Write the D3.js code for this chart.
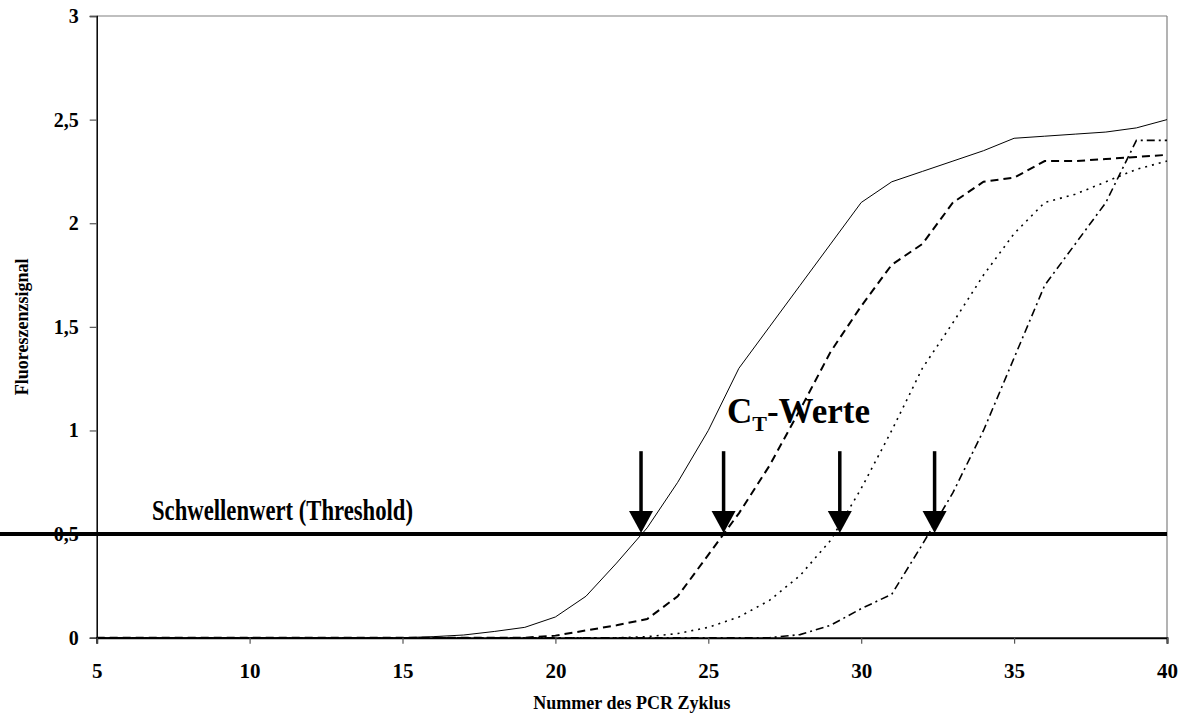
<!DOCTYPE html>
<html>
<head>
<meta charset="utf-8">
<script src="https://cdn.jsdelivr.net/npm/d3@7"></script>
<style>
    body{margin:0;background:#fff;}
    svg text{font-family:"Liberation Serif","Times New Roman",serif;font-weight:bold;fill:#000;}
</style>
</head>
<body>
<svg id="chart" width="1182" height="716"></svg>
<script>
var cycles=d3.range(5,41);

// signal per cycle 5..40, four samples
var sampleA=[0,0,0,0,0,0,0,0,0,0,0,0.005,0.013,0.03,0.05,0.10,0.20,0.36,0.53,0.75,1.0,1.3,1.5,1.7,1.9,2.1,2.2,2.25,2.3,2.35,2.41,2.42,2.43,2.44,2.46,2.5];
var sampleB=[0,0,0,0,0,0,0,0,0,0,0,0,0,0,0,0.01,0.035,0.06,0.09,0.2,0.4,0.6,0.83,1.1,1.38,1.6,1.8,1.9,2.1,2.2,2.22,2.3,2.3,2.31,2.32,2.33];
var sampleC=[0,0,0,0,0,0,0,0,0,0,0,0,0,0,0,0,0,0,0.005,0.02,0.05,0.1,0.18,0.3,0.47,0.72,1.0,1.3,1.52,1.75,1.95,2.1,2.14,2.2,2.26,2.3];
var sampleD=[0,0,0,0,0,0,0,0,0,0,0,0,0,0,0,0,0,0,0,0,0,0,0,0.015,0.06,0.14,0.21,0.45,0.7,1.0,1.35,1.7,1.9,2.1,2.4,2.4];

var xTicks=[5,10,15,20,25,30,35,40];
var yTicks=[0,0.5,1,1.5,2,2.5,3];
var thresholdValue=0.5;
var ctValues=[22.8,25.5,29.3,32.4];
var arrowTopValue=0.9;

var seriesList=[
    {name:"A",values:sampleA,width:1,dash:null},
    {name:"B",values:sampleB,width:2,dash:"8,5"},
    {name:"C",values:sampleC,width:1.6,dash:"2,5"},
    {name:"D",values:sampleD,width:1.6,dash:"8,4,2,4"}
];

var plotLeft=96.7,plotRight=1167,plotTop=16,plotBottom=637.7;
var svg=d3.select("#chart");

var x=d3.scaleLinear().domain([5,40]).range([plotLeft,plotRight]);
var y=d3.scaleLinear().domain([0,3]).range([plotBottom,plotTop]);

var fmt=function(d){return String(d).replace(".",",");};

// frame top/right grey
svg.append("line").attr("x1",plotLeft).attr("x2",plotRight).attr("y1",plotTop).attr("y2",plotTop)
    .attr("stroke","#808080").attr("stroke-width",1.2);
svg.append("line").attr("x1",plotRight).attr("x2",plotRight).attr("y1",plotTop).attr("y2",plotBottom)
    .attr("stroke","#808080").attr("stroke-width",1.2);

var yAxis=svg.append("g").attr("transform","translate("+plotLeft+",0)")
    .call(d3.axisLeft(y).tickValues(yTicks).tickFormat(fmt).tickSize(7).tickPadding(11));
yAxis.select(".domain").attr("stroke","#000").attr("stroke-width",1.5);
yAxis.selectAll(".tick line").attr("stroke","#555").attr("stroke-width",1.2);
yAxis.selectAll("text").style("font-size","20px");

var line=d3.line().x(function(d,i){return x(cycles[i]);}).y(function(d){return y(d);});

svg.selectAll("path.curve").data(seriesList).enter().append("path")
    .attr("class","curve")
    .attr("d",function(s){return line(s.values);})
    .attr("fill","none")
    .attr("stroke","#000")
    .attr("stroke-width",function(s){return s.width;})
    .attr("stroke-dasharray",function(s){return s.dash;});

// x axis after the curves so the flat parts sit under it
var xAxis=svg.append("g").attr("transform","translate(0,"+plotBottom+")")
    .call(d3.axisBottom(x).tickValues(xTicks).tickFormat(fmt).tickSize(6).tickPadding(19));
xAxis.select(".domain").attr("stroke","#000").attr("stroke-width",2);
xAxis.selectAll(".tick line").attr("stroke","#555").attr("stroke-width",1.2);
xAxis.selectAll("text").style("font-size","21px");

// threshold
svg.append("line").attr("x1",0).attr("x2",plotRight)
    .attr("y1",y(thresholdValue)).attr("y2",y(thresholdValue))
    .attr("stroke","#000").attr("stroke-width",4);

svg.append("text").attr("x",152).attr("y",520).style("font-size","30px")
    .attr("textLength",261).attr("lengthAdjust","spacingAndGlyphs")
    .text("Schwellenwert (Threshold)");

// CT arrows
var arrows=svg.selectAll("g.arrow").data(ctValues).enter().append("g").attr("class","arrow");
arrows.append("line")
    .attr("x1",function(d){return x(d);}).attr("x2",function(d){return x(d);})
    .attr("y1",y(arrowTopValue)).attr("y2",y(thresholdValue)-18)
    .attr("stroke","#000").attr("stroke-width",3.5);
arrows.append("path")
    .attr("d",function(d){
        var cx=x(d),ty=y(thresholdValue)-1;
        return "M"+(cx-12)+","+(ty-22)+"L"+(cx+12)+","+(ty-22)+"L"+cx+","+ty+"Z";
    })
    .attr("fill","#000");

var ct=svg.append("text").attr("x",727).attr("y",423).style("font-size","35px");
ct.append("tspan").text("C");
ct.append("tspan").attr("dy",8).style("font-size","22px").text("T");
ct.append("tspan").attr("dy",-8).text("-Werte");

svg.append("text").attr("x",(plotLeft+plotRight)/2).attr("y",709).attr("text-anchor","middle")
    .style("font-size","18px").text("Nummer des PCR Zyklus");
svg.append("text").attr("transform","translate(28,"+((plotTop+plotBottom)/2)+") rotate(-90)")
    .attr("text-anchor","middle").style("font-size","18px").text("Fluoreszenzsignal");
</script>
</body>
</html>
